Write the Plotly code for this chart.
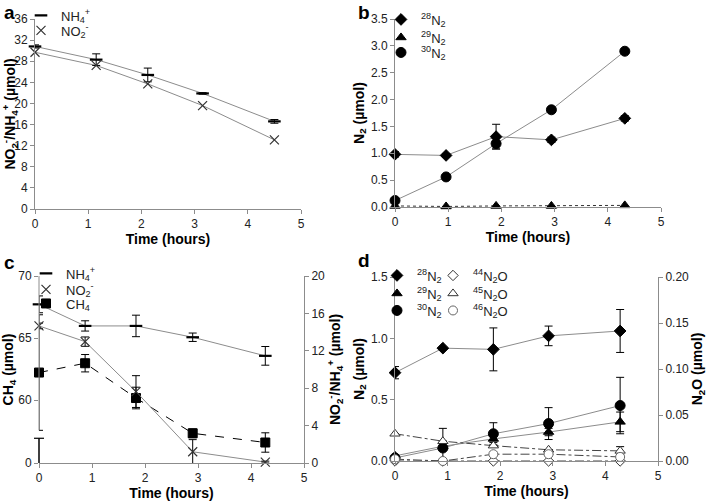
import plotly.graph_objects as go

W, H = 708, 503
FONT = "Liberation Sans, Arial, Helvetica, sans-serif"
AX = "#8c8c8c"
LN = "#8c8c8c"
TXT = "#222222"

# ---------------- data ----------------
# Panel a
a_time = [0, 1.15, 2.12, 3.15, 4.5]
a_nh4 = [30.8, 28.3, 25.4, 21.9, 16.6]
a_nh4_err = [0.3, 1.1, 1.3, 0.15, 0.35]
a_no2 = [29.7, 27.2, 23.7, 19.6, 13.1]

# Panel b
b_time = [0, 0.96, 1.9, 2.94, 4.32]
b_n28 = [0.98, 0.96, 1.31, 1.25, 1.65]
b_n28_err = [0.05, 0.03, 0.23, 0.05, 0.05]
b_n29 = [0.02, 0.01, 0.02, 0.02, 0.03]
b_n30 = [0.12, 0.56, 1.18, 1.81, 2.9]
b_n30_err = [0.02, 0.02, 0.1, 0.03, 0.03]

# Panel c
c_time = [0, 0.87, 1.83, 2.9, 4.27]
c_nh4 = [16.97, 14.66, 14.66, 13.45, 11.46]
c_nh4_err = [0.9, 0.55, 1.15, 0.45, 1.0]
c_no2 = [14.66, 12.98, 7.64, 1.2, 0.1]
c_no2_err = [0.3, 0.5, 1.7, 1.3, 0.1]
c_ch4 = [62.23, 62.98, 60.18, 57.34, 56.6]
c_ch4_err = [4.65, 0.7, 0.87, 0.35, 0.78]
c_ch4_ticks = [54.95, 60, 65, 70]
c_ch4_ticktext = ["0", "60", "65", "70"]
c_break = [56.94, 57.58]

# Panel d
d_time = [0, 0.91, 1.87, 2.92, 4.28]
d_n28 = [0.72, 0.92, 0.91, 1.02, 1.06]
d_n28_err = [0.05, 0.0, 0.175, 0.08, 0.175]
d_n29 = [0.042, 0.12, 0.18, 0.236, 0.319]
d_n29_err = [0.01, 0.02, 0.03, 0.03, 0.08]
d_n30 = [0.025, 0.106, 0.222, 0.305, 0.452]
d_n30_err = [0.01, 0.16, 0.09, 0.13, 0.23]
d_o44 = [0.0, 0.0, 0.0, 0.0, 0.0]
d_o45 = [0.0296, 0.0215, 0.0167, 0.0122, 0.011]
d_o45_err = [0.0, 0.0, 0.0, 0.0, 0.0046]
d_o46 = [0.002, 0.0, 0.0074, 0.0074, 0.0044]

# ---------------- helpers ----------------
def xd(l, r):
    return [l / W, r / W]

def yd(top, bot):
    return [1 - bot / H, 1 - top / H]

fig = go.Figure()
legends = {}
leg_count = [0]

def new_legend(sym_x, sym_y):
    leg_count[0] += 1
    name = "legend" if leg_count[0] == 1 else "legend%d" % leg_count[0]
    left = sym_x - 19
    top = sym_y - 16.5
    legends[name] = dict(x=left / W, y=1 - top / H, xanchor="left", yanchor="top",
                         bgcolor="rgba(0,0,0,0)", borderwidth=0, itemwidth=30,
                         font=dict(family=FONT, size=13, color=TXT))
    return name

def lines(x, y, xa, ya, dash="solid", color=LN, width=1):
    fig.add_trace(go.Scatter(x=x, y=y, xaxis=xa, yaxis=ya, mode="lines",
                             line=dict(color=color, width=width, dash=dash),
                             showlegend=False, hoverinfo="skip"))

def marks(x, y, xa, ya, name, legpos, symbol, size, fill="black", lcolor="black", lw=1, err=None):
    m = dict(symbol=symbol, size=size, color=fill, line=dict(color=lcolor, width=lw))
    if err is not None:
        e = dict(type="data", array=err, visible=True, color="black", thickness=1, width=4)
    else:
        e = dict(visible=False)
    fig.add_trace(go.Scatter(x=x, y=y, xaxis=xa, yaxis=ya, mode="markers", marker=m,
                             error_y=e, name=name, legend=new_legend(*legpos), cliponaxis=False))

# ---------------- panel a ----------------
lines(a_time, a_nh4, "x", "y")
lines(a_time, a_no2, "x", "y")
marks(a_time, a_nh4, "x", "y", "NH<sub>4</sub><sup>+</sup>", (40, 17), "line-ew", 9, lw=2.2, err=a_nh4_err)
marks(a_time, a_no2, "x", "y", "NO<sub>2</sub><sup>-</sup>", (40, 32), "x-thin", 9, lcolor="#333", lw=1.2)

# ---------------- panel b ----------------
lines(b_time, b_n28, "x2", "y2")
lines(b_time, b_n30, "x2", "y2")
lines(b_time, b_n29, "x2", "y2", dash="dot", color="#333")
marks(b_time, b_n28, "x2", "y2", "<sup>28</sup>N<sub>2</sub>", (400, 21), "diamond", 9, err=b_n28_err)
marks(b_time, b_n29, "x2", "y2", "<sup>29</sup>N<sub>2</sub>", (400, 39), "triangle-up", 9)
marks(b_time, b_n30, "x2", "y2", "<sup>30</sup>N<sub>2</sub>", (400, 54), "circle", 10, err=b_n30_err)

# ---------------- panel c ----------------
lines(c_time, c_nh4, "x3", "y5")
lines(c_time, c_no2, "x3", "y5")
lines(c_time, c_ch4, "x3", "y3", dash="dash", color="black")
marks(c_time, c_nh4, "x3", "y5", "NH<sub>4</sub><sup>+</sup>", (45, 275), "line-ew", 9, lw=2.2, err=c_nh4_err)
marks(c_time, c_no2, "x3", "y5", "NO<sub>2</sub><sup>-</sup>", (45, 291), "x-thin", 9, lcolor="#333", lw=1.2, err=c_no2_err)
marks(c_time, c_ch4, "x3", "y3", "CH<sub>4</sub>", (45, 305), "square", 9, err=c_ch4_err)

# ---------------- panel d ----------------
lines(d_time, d_n28, "x4", "y4")
lines(d_time, d_n29, "x4", "y4")
lines(d_time, d_n30, "x4", "y4")
lines(d_time, d_o44, "x4", "y6", dash="dashdot", color="#444")
lines(d_time, d_o45, "x4", "y6", dash="dashdot", color="#444")
lines(d_time, d_o46, "x4", "y6", dash="dashdot", color="#444")
marks(d_time, d_n28, "x4", "y4", "<sup>28</sup>N<sub>2</sub>", (396, 277), "diamond", 9, err=d_n28_err)
marks(d_time, d_n29, "x4", "y4", "<sup>29</sup>N<sub>2</sub>", (396, 295), "triangle-up", 9, err=d_n29_err)
marks(d_time, d_n30, "x4", "y4", "<sup>30</sup>N<sub>2</sub>", (396, 312), "circle", 10, err=d_n30_err)
marks(d_time, d_o44, "x4", "y6", "<sup>44</sup>N<sub>2</sub>O", (452, 277), "diamond", 8, fill="white", lcolor="#333")
marks(d_time, d_o45, "x4", "y6", "<sup>45</sup>N<sub>2</sub>O", (452, 295), "triangle-up", 9, fill="white", lcolor="#333", err=d_o45_err)
marks(d_time, d_o46, "x4", "y6", "<sup>46</sup>N<sub>2</sub>O", (452, 312), "circle", 9, fill="white", lcolor="#666")

# ---------------- axes ----------------
tickfont = dict(family=FONT, size=12, color=TXT)
titlefont = dict(family=FONT, size=14, color="black")

def xaxis(dom, anchor):
    return dict(domain=dom, anchor=anchor, range=[0, 5], dtick=1, tick0=0, automargin=False,
                showline=True, linecolor=AX, linewidth=1, ticks="outside", ticklen=4,
                tickcolor=AX, showgrid=False, zeroline=False, tickfont=tickfont,
                title=dict(text="<b>Time (hours)</b>", font=dict(family=FONT, size=14, color="black"), standoff=0))

def yaxis(dom, anchor, rng, dtick, title, fmt=None, side="left", overlaying=None, standoff=3):
    d = dict(domain=dom, anchor=anchor, range=rng, dtick=dtick, tick0=0, side=side, automargin=False,
             showline=True, linecolor=AX, linewidth=1, ticks="outside", ticklen=4,
             tickcolor=AX, showgrid=False, zeroline=False, tickfont=tickfont,
             title=dict(text=title, font=titlefont, standoff=standoff))
    if fmt:
        d["tickformat"] = fmt
    if overlaying:
        d["overlaying"] = overlaying
    return d

xa_dom = xd(35, 301)
xb_dom = xd(395, 661)
xc_dom = xd(39, 304)
xd_dom = xd(395, 658)
ya_dom = yd(19, 209)
yb_dom = yd(19, 207)
yc_dom = yd(276, 463)
ydd_dom = yd(277, 461)

ttl_mix = "<b>NO<sub>2</sub><sup>-</sup>/NH<sub>4</sub><sup>+</sup> (µmol)</b>"

y3 = yaxis(yc_dom, "x3", [c_ch4_ticks[0], c_ch4_ticks[-1]], None, "<b>CH<sub>4</sub> (µmol)</b>")
y3.pop("dtick"); y3.pop("tick0")
y3.update(tickmode="array", tickvals=c_ch4_ticks, ticktext=c_ch4_ticktext, showline=False)

fig.update_layout(
    width=W, height=H,
    margin=dict(l=0, r=0, t=0, b=0, autoexpand=False),
    paper_bgcolor="white", plot_bgcolor="white",
    font=dict(family=FONT, color=TXT),
    showlegend=True,
    xaxis=xaxis(xa_dom, "y"),
    yaxis=yaxis(ya_dom, "x", [0, 36], 4, ttl_mix),
    xaxis2=xaxis(xb_dom, "y2"),
    yaxis2=yaxis(yb_dom, "x2", [0, 3.5], 0.5, "<b>N<sub>2</sub> (µmol)</b>", fmt=".1f"),
    xaxis3=xaxis(xc_dom, "y3"),
    yaxis3=y3,
    yaxis5=yaxis(yc_dom, "x3", [0, 20], 4, ttl_mix, side="right", overlaying="y3", standoff=0),
    xaxis4=xaxis(xd_dom, "y4"),
    yaxis4=yaxis(ydd_dom, "x4", [0, 1.5], 0.5, "<b>N<sub>2</sub> (µmol)</b>", fmt=".1f"),
    yaxis6=yaxis(ydd_dom, "x4", [0, 0.2], 0.05, "<b>N<sub>2</sub>O (µmol)</b>", fmt=".2f", side="right", overlaying="y4", standoff=0),
)
fig.update_layout(**legends)

# ---------------- axis break on panel c (left axis) ----------------
def ypx_c(v):
    r0, r1 = c_ch4_ticks[0], c_ch4_ticks[-1]
    return yc_dom[0] + (v - r0) / (r1 - r0) * (yc_dom[1] - yc_dom[0])

x0c = xc_dom[0]
fig.add_shape(type="line", xref="paper", yref="paper", x0=x0c, x1=x0c,
              y0=ypx_c(c_break[1]), y1=ypx_c(c_ch4_ticks[-1]), line=dict(color=AX, width=1))
fig.add_shape(type="line", xref="paper", yref="paper", x0=x0c, x1=x0c,
              y0=ypx_c(c_ch4_ticks[0]), y1=ypx_c(c_break[0]), line=dict(color="black", width=1.5))
fig.add_shape(type="line", xref="paper", yref="paper", x0=x0c - 5 / W, x1=x0c + 5 / W,
              y0=ypx_c(c_break[0]), y1=ypx_c(c_break[0]), line=dict(color="black", width=1.2))

# ---------------- panel letters ----------------
for lbl, xp, yp, anc in [("a", 2, 0, "top"), ("b", 356, 0, "top"), ("c", 2, 250, "top"), ("d", 356, 248, "top")]:
    fig.add_annotation(text="<b>%s</b>" % lbl, xref="paper", yref="paper", x=xp / W, y=1 - yp / H,
                       xanchor="left", yanchor=anc, showarrow=False,
                       font=dict(family=FONT, size=19, color="black"))

fig.write_html("out.html", config={"displayModeBar": False},
               post_script="document.body.style.margin='0';document.body.style.overflow='hidden';")
